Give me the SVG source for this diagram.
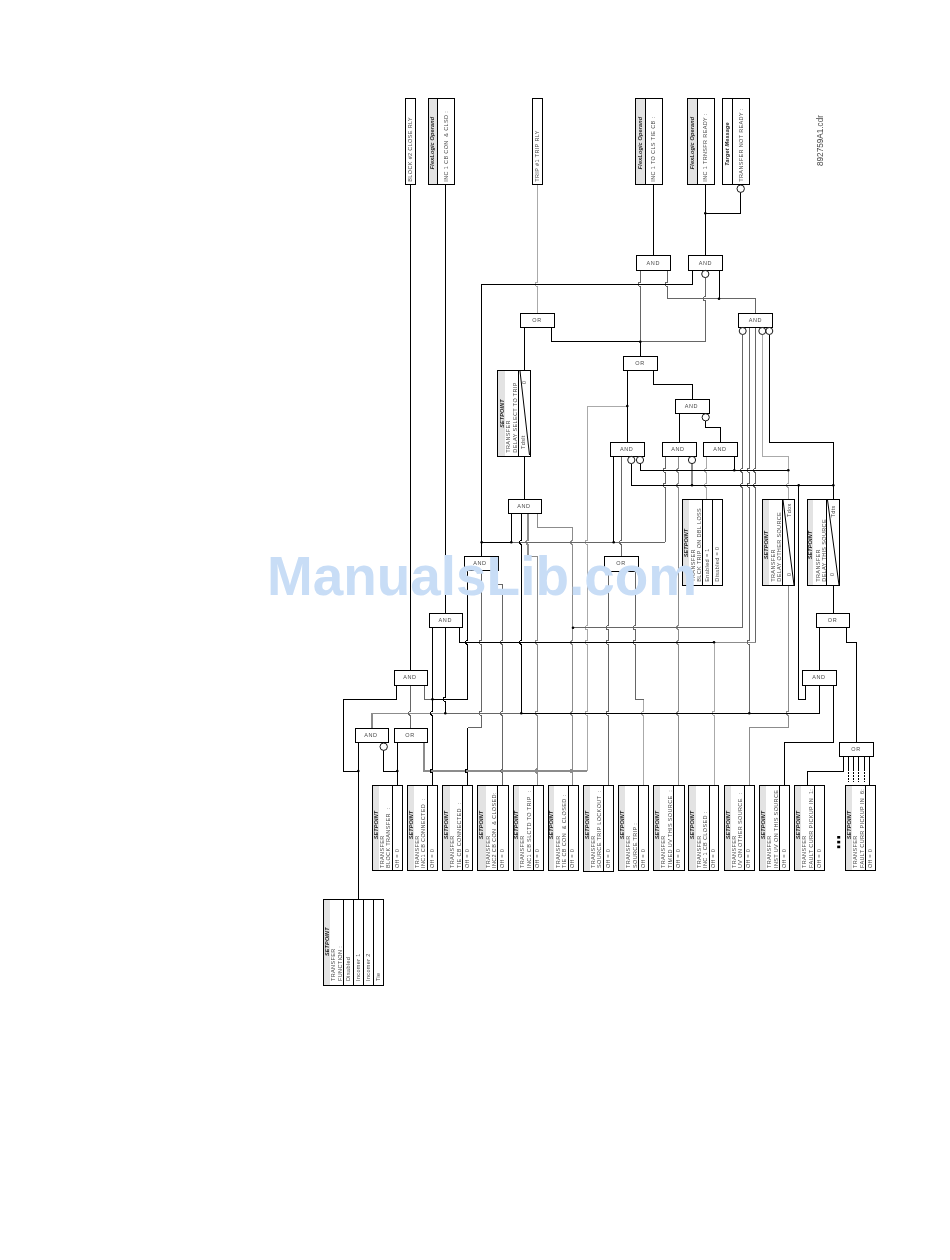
<svg xmlns="http://www.w3.org/2000/svg" width="950" height="1260" viewBox="0 0 950 1260">
<style>
text{font-family:"Liberation Sans",Arial,sans-serif;font-size:5.5px;fill:#444;letter-spacing:.36px;white-space:pre;opacity:.97}
.h{font-weight:bold;font-style:italic;text-anchor:middle;fill:#222;letter-spacing:.15px}
.m{text-anchor:middle;letter-spacing:.6px}
.b{fill:#fff;stroke:#000;stroke-width:1;shape-rendering:crispEdges}
.f{fill:#e3e3e3;stroke:none;mix-blend-mode:multiply;shape-rendering:crispEdges}
.d{fill:none;stroke:#000;stroke-width:1}
line.d{shape-rendering:crispEdges}
.o{fill:#fff;stroke:#000;stroke-width:.9}
#wires path{fill:none;stroke-width:1;shape-rendering:crispEdges}
.k{stroke:#000}.g1{stroke:#666}.g2{stroke:#8c8c8c;stroke-width:1.3!important}.g3{stroke:#aaa}
.n{fill:#000;stroke:none}
</style>
<rect width="950" height="1260" fill="#fff"/>
<g id="wires">
<path class="g3" d="M537 184.7V282.3a2 2 0 0 0 0 4V313.3M762.3 334.7V456H788.5V483.3a2 2 0 0 0 0 4V499.3M627.3 406H587.3V540.3a2 2 0 0 0 0 4V625.7a2 2 0 0 0 0 4V640.3a2 2 0 0 0 0 4V711.3a2 2 0 0 0 0 4V771M643.5 699.3V711.3a2 2 0 0 0 0 4V785M706.7 456.3V468.3a2 2 0 0 0 0 4V483.3a2 2 0 0 0 0 4V499.3M714 642.3V711.3a2 2 0 0 0 0 4V785"/>
<path class="g2" d="M528 513.7V540.3a2 2 0 0 0 0 4V556.3H537.3V640.3a2 2 0 0 0 0 4V711.3a2 2 0 0 0 0 4V769a2 2 0 0 0 0 4V785M537.7 513.7V527.7H572.7V540.3a2 2 0 0 0 0 4V640.3a2 2 0 0 0 0 4V711.3a2 2 0 0 0 0 4V769a2 2 0 0 0 0 4V785M678.7 456.3V468.3a2 2 0 0 0 0 4V483.3a2 2 0 0 0 0 4V625.7a2 2 0 0 0 0 4V640.3a2 2 0 0 0 0 4V711.3a2 2 0 0 0 0 4V785M692 464V485.3M424 742.7V771H587.3M788.3 585.7V711.3a2 2 0 0 0 0 4V727.7H749.3V785M714 642.3H755.7M372 728.3V713.3H445.3"/>
<path class="g1" d="M640.3 270.3V282.3a2 2 0 0 0 0 4V341.7M667 270.3V282.3a2 2 0 0 0 0 4V298.7H755.7V313.3M705.3 278V296.7a2 2 0 0 0 0 4V341.7H640.3M742.7 334.7V468.3a2 2 0 0 0 0 4V483.3a2 2 0 0 0 0 4V627.7H573.3M749.3 327.7V468.3a2 2 0 0 0 0 4V483.3a2 2 0 0 0 0 4V640.3a2 2 0 0 0 0 4V713.3M755.7 327.7V468.3a2 2 0 0 0 0 4V483.3a2 2 0 0 0 0 4V642.3M511.3 542.3H665M665 456.3V468.3a2 2 0 0 0 0 4V483.3a2 2 0 0 0 0 4V542.3M621.7 456.3V540.3a2 2 0 0 0 0 4V556.3M608.3 571.7V625.7a2 2 0 0 0 0 4V640.3a2 2 0 0 0 0 4V711.3a2 2 0 0 0 0 4V785M635.3 571.7V625.7a2 2 0 0 0 0 4V640.3a2 2 0 0 0 0 4V699.3H643.5M481.2 570.7V640.3a2 2 0 0 0 0 4V711.3a2 2 0 0 0 0 4V727.7H467.5M494 570.7V584.3H502.7V640.3a2 2 0 0 0 0 4V711.3a2 2 0 0 0 0 4V769a2 2 0 0 0 0 4V785M410.7 685.3V711.3a2 2 0 0 0 0 4V728.3M445.3 713.3H521.3M424 685.3V699.3H432.5"/>
<path class="k" d="M410.5 184.7V670.3M445.3 184.7V613.3M653.3 184.7V255.7M705.3 184.7V255.7M740.7 192.4V213.3H705.3M692.3 270.3V284.3H481.7V556.3M719 270.3V298.7M551.3 327.7V341.7H640.3M524.5 327.7V370.7M524.5 456.7V499.3M511.3 513.7V542.3M481.7 542.3H511.3M613.7 456.3V542.3M627.3 370.7V442.3M640.3 341.7V356.3M653.3 370.7V384.3H692.3V399.3M679.3 413.3V442.3M705.7 421V427.3H720.3V442.3M734.3 456.3V470.3M640 464V470.3H788.3M631.3 464V485.3H833.3V499.3M769.3 334.7V442.3H833.3V485.3"/>
<path class="k" d="M521.5 513.7V540.3a2 2 0 0 0 0 4V640.3a2 2 0 0 0 0 4V713.3M432.5 627.3V711.3a2 2 0 0 0 0 4V769a2 2 0 0 0 0 4V785M445.3 627.3V697.3a2 2 0 0 0 0 4V713.3M467.5 570.7V640.3a2 2 0 0 0 0 4V699.3H432.5M459.3 627.3V642.3H714M396.7 685.3V699.3H343.3V771H358.3M358.3 742.7V899.3M383.7 750.4V771H397.3M397.3 742.7V785M521.3 713.3H819.7V685.3M467.5 727.7V769a2 2 0 0 0 0 4V785M805.7 685.3V699.3H798.7V485.3M819.7 627.3V670.3M833.3 685.3V742.7H784.3V785M833.3 585.7V613.3M846.7 627.3V642.3H856.7V742.3M843.7 756.7V771H807.3V785M869.3 756.7V785"/>
<path class="k" style="stroke-dasharray:14 1.5 1.5 1.5 1.5 1.5 1.5 1.5" d="M848.3 756.7V782M853.3 756.7V782M858.3 756.7V782M864.3 756.7V782"/>
<g>
<circle class="n" cx="481.7" cy="542.3" r="1.3"/><circle class="n" cx="511.3" cy="542.3" r="1.3"/><circle class="n" cx="613.7" cy="542.3" r="1.3"/><circle class="n" cx="627.3" cy="406" r="1.3"/><circle class="n" cx="640.3" cy="341.7" r="1.3"/><circle class="n" cx="719" cy="298.7" r="1.3"/><circle class="n" cx="705.3" cy="213.3" r="1.3"/><circle class="n" cx="734.3" cy="470.3" r="1.3"/><circle class="n" cx="788.3" cy="470.3" r="1.3"/><circle class="n" cx="692" cy="485.3" r="1.3"/><circle class="n" cx="798.7" cy="485.3" r="1.3"/><circle class="n" cx="833.3" cy="485.3" r="1.3"/><circle class="n" cx="432.5" cy="699.3" r="1.3"/><circle class="n" cx="445.3" cy="713.3" r="1.3"/><circle class="n" cx="521.3" cy="713.3" r="1.3"/><circle class="n" cx="749.3" cy="713.3" r="1.3"/><circle class="n" cx="573" cy="627.7" r="1.3"/><circle class="n" cx="714" cy="642.3" r="1.3"/><circle class="n" cx="358.3" cy="771" r="1.3"/><circle class="n" cx="397.3" cy="771" r="1.3"/>
</g>
</g>

<g id="out-block2"><rect class="b" x="405.3" y="98.3" width="10.4" height="86.4"/><text transform="translate(412.3 181.7) rotate(-90)">BLOCK #2 CLOSE RLY</text></g>
<g id="out-inc1-con"><rect class="b" x="428.3" y="98.3" width="26" height="86.4"/><rect class="f" x="428.3" y="98.3" width="9" height="86.4"/><line class="d" x1="437.3" y1="98.3" x2="437.3" y2="184.7"/><text class="h" transform="translate(434.3 143) rotate(-90)">FlexLogic Operand</text><text transform="translate(447.5 181.7) rotate(-90)">INC 1 CB CON  &amp; CLSD :</text></g>
<g id="out-trip1"><rect class="b" x="532.3" y="98.3" width="10" height="86.4"/><text transform="translate(539 181.7) rotate(-90)">TRIP #1 TRIP RLY</text></g>
<g id="out-inc1-cls"><rect class="b" x="635.3" y="98.3" width="27.4" height="86.4"/><rect class="f" x="635.3" y="98.3" width="10" height="86.4"/><line class="d" x1="645.3" y1="98.3" x2="645.3" y2="184.7"/><text class="h" transform="translate(642.3 143) rotate(-90)">FlexLogic Operand</text><text transform="translate(655.3 181.7) rotate(-90)">INC 1 TO CLS TIE CB :</text></g>
<g id="out-inc1-ready"><rect class="b" x="687.3" y="98.3" width="27.4" height="86.4"/><rect class="f" x="687.3" y="98.3" width="10" height="86.4"/><line class="d" x1="697.3" y1="98.3" x2="697.3" y2="184.7"/><text class="h" transform="translate(694.3 143) rotate(-90)">FlexLogic Operand</text><text transform="translate(707.3 181.7) rotate(-90)">INC 1 TRNSFR READY :</text></g>
<g id="out-target"><rect class="b" x="722.3" y="98.3" width="27.4" height="86.4"/><line class="d" x1="732.3" y1="98.3" x2="732.3" y2="184.7"/><text class="h" transform="translate(729.3 144) rotate(-90)">Target Message</text><text transform="translate(742.7 181.7) rotate(-90)">TRANSFER NOT READY :</text><circle class="o" cx="740.7" cy="188.7" r="3.7"/></g>
<text id="drawing-no" transform="translate(823 166) rotate(-90)" style="font-size:8.2px;letter-spacing:0">892759A1.cdr</text>

<g id="and-cls"><rect class="b" x="636.3" y="255.7" width="34" height="14.6"/><text class="m" x="653.3" y="264.7">AND</text></g>
<g id="and-ready"><rect class="b" x="688.3" y="255.7" width="34.4" height="14.6"/><text class="m" x="705.5" y="264.7">AND</text><circle class="o" cx="705.3" cy="274" r="3.6"/></g>
<g id="and-big"><rect class="b" x="738.3" y="313.3" width="34.4" height="14.4"/><text class="m" x="755.5" y="322.2">AND</text><circle class="o" cx="742.7" cy="331" r="3.5"/><circle class="o" cx="762.3" cy="331" r="3.5"/><circle class="o" cx="769.3" cy="331" r="3.5"/></g>
<g id="or-trip"><rect class="b" x="520.3" y="313.3" width="34.4" height="14.4"/><text class="m" x="537" y="322.2">OR</text></g>
<g id="or-mid"><rect class="b" x="623.3" y="356.3" width="34.4" height="14.4"/><text class="m" x="640" y="365.2">OR</text></g>
<g id="and-mid"><rect class="b" x="675.3" y="399.3" width="34.4" height="14"/><text class="m" x="691.5" y="408">AND</text><circle class="o" cx="705.7" cy="417.3" r="3.6"/></g>
<g id="and-a"><rect class="b" x="610.3" y="442.3" width="34" height="14"/><text class="m" x="626.7" y="451">AND</text><circle class="o" cx="631.3" cy="460" r="3.6"/><circle class="o" cx="640" cy="460" r="3.6"/></g>
<g id="and-b"><rect class="b" x="662.3" y="442.3" width="34" height="14"/><text class="m" x="678" y="451">AND</text><circle class="o" cx="692" cy="460" r="3.6"/></g>
<g id="and-c"><rect class="b" x="703.3" y="442.3" width="34.4" height="14"/><text class="m" x="720" y="451">AND</text></g>
<g id="and-delay"><rect class="b" x="508.3" y="499.3" width="33.4" height="14.4"/><text class="m" x="524" y="508.2">AND</text></g>
<g id="and-1"><rect class="b" x="464.3" y="556.3" width="33.7" height="14.4"/><text class="m" x="480" y="565.2">AND</text></g>
<g id="or-src"><rect class="b" x="604.3" y="556.3" width="34.4" height="15.4"/><text class="m" x="621" y="565.2">OR</text></g>
<g id="and-2"><rect class="b" x="429.3" y="613.3" width="33.4" height="14"/><text class="m" x="445.3" y="622">AND</text></g>
<g id="or-r"><rect class="b" x="816.3" y="613.3" width="33.4" height="14"/><text class="m" x="832.5" y="622">OR</text></g>
<g id="and-3"><rect class="b" x="394.3" y="670.3" width="33.4" height="15"/><text class="m" x="410" y="679">AND</text></g>
<g id="and-r"><rect class="b" x="802.3" y="670.3" width="34.4" height="15"/><text class="m" x="819" y="679">AND</text></g>
<g id="and-4"><rect class="b" x="355.3" y="728.3" width="33.4" height="14.4"/><text class="m" x="371" y="737.2">AND</text><circle class="o" cx="383.7" cy="746.7" r="3.7"/></g>
<g id="or-4"><rect class="b" x="394.3" y="728.3" width="33.4" height="14.4"/><text class="m" x="410" y="737.2">OR</text></g>
<g id="or-fault"><rect class="b" x="839.3" y="742.3" width="34.4" height="14.4"/><text class="m" x="856" y="751.2">OR</text></g>

<g id="sp-delay-trip"><rect class="b" x="497.3" y="370.7" width="33.4" height="86"/><rect class="f" x="497.3" y="370.7" width="8" height="86"/><line class="d" x1="518.7" y1="370.7" x2="518.7" y2="456.7"/><path class="d" d="M520 371L529.5 455"/><text class="h" transform="translate(503.5 413.5) rotate(-90)">SETPOINT</text><text transform="translate(509.7 452.7) rotate(-90)">TRANSFER</text><text transform="translate(517.2 452.7) rotate(-90)">DELAY SELECT TO TRIP</text><text transform="translate(525 449) rotate(-90)">Tdslt</text><text transform="translate(526 384) rotate(-90)">0</text></g>
<g id="sp-dbl-loss"><rect class="b" x="682.3" y="499.3" width="40.4" height="86.4"/><rect class="f" x="682.3" y="499.3" width="6.4" height="86.4"/><line class="d" x1="702.3" y1="499.3" x2="702.3" y2="585.7"/><line class="d" x1="712.3" y1="499.3" x2="712.3" y2="585.7"/><text class="h" transform="translate(687.7 543) rotate(-90)">SETPOINT</text><text transform="translate(694.7 581.7) rotate(-90)">TRANSFER</text><text transform="translate(700.7 581.7) rotate(-90)">BLCK TRIP ON DBL LOSS</text><text transform="translate(709.3 581.7) rotate(-90)">Enabled = 1</text><text transform="translate(719.3 581.7) rotate(-90)">Disabled = 0</text></g>
<g id="sp-delay-other"><rect class="b" x="762.3" y="499.3" width="32.4" height="86.4"/><rect class="f" x="762.3" y="499.3" width="7" height="86.4"/><line class="d" x1="782.3" y1="499.3" x2="782.3" y2="585.7"/><path class="d" d="M783 500L794 585"/><text class="h" transform="translate(768.3 545) rotate(-90)">SETPOINT</text><text transform="translate(774.7 581.7) rotate(-90)">TRANSFER</text><text transform="translate(781.3 581.7) rotate(-90)">DELAY OTHER SOURCE</text><text transform="translate(790.7 517) rotate(-90)">Tdox</text><text transform="translate(790.7 576) rotate(-90)">0</text></g>
<g id="sp-delay-this"><rect class="b" x="807.3" y="499.3" width="32" height="86.4"/><rect class="f" x="807.3" y="499.3" width="6" height="86.4"/><line class="d" x1="826.7" y1="499.3" x2="826.7" y2="585.7"/><path class="d" d="M827.5 500L839 585"/><text class="h" transform="translate(812.3 545) rotate(-90)">SETPOINT</text><text transform="translate(819.7 581.7) rotate(-90)">TRANSFER</text><text transform="translate(826 581.7) rotate(-90)">DELAY THIS SOURCE</text><text transform="translate(835 517.5) rotate(-90)">Tdts</text><text transform="translate(833.7 576) rotate(-90)">0</text></g>

<g id="sp-block-transfer"><rect class="b" x="372.5" y="785" width="30.2" height="85.5"/><rect class="f" x="372.5" y="785" width="6.2" height="85.5"/><line class="d" x1="392.3" y1="785" x2="392.3" y2="870.5"/><text class="h" transform="translate(377.5 825) rotate(-90)">SETPOINT</text><text transform="translate(383.7 868) rotate(-90)">TRANSFER</text><text transform="translate(390.3 868) rotate(-90)">BLOCK TRANSFER  :</text><text transform="translate(398.7 868) rotate(-90)">Off = 0</text></g>
<g id="sp-inc1-conn"><rect class="b" x="407.5" y="785" width="30.2" height="85.5"/><rect class="f" x="407.5" y="785" width="6.5" height="85.5"/><line class="d" x1="427.7" y1="785" x2="427.7" y2="870.5"/><text class="h" transform="translate(412.7 825) rotate(-90)">SETPOINT</text><text transform="translate(418.7 868) rotate(-90)">TRANSFER</text><text transform="translate(425.3 868) rotate(-90)">INC1 CB CONNECTED  :</text><text transform="translate(433.7 868) rotate(-90)">Off = 0</text></g>
<g id="sp-tie-conn"><rect class="b" x="442" y="785" width="30.7" height="85.5"/><rect class="f" x="442" y="785" width="7.7" height="85.5"/><line class="d" x1="462.7" y1="785" x2="462.7" y2="870.5"/><text class="h" transform="translate(447.7 825) rotate(-90)">SETPOINT</text><text transform="translate(454 868) rotate(-90)">TRANSFER</text><text transform="translate(460.5 868) rotate(-90)">TIE CB CONNECTED  :</text><text transform="translate(468.7 868) rotate(-90)">Off = 0</text></g>
<g id="sp-inc2-closed"><rect class="b" x="477" y="785" width="31" height="85.5"/><rect class="f" x="477" y="785" width="8.7" height="85.5"/><line class="d" x1="497.7" y1="785" x2="497.7" y2="870.5"/><text class="h" transform="translate(483.3 825) rotate(-90)">SETPOINT</text><text transform="translate(489.5 868) rotate(-90)">TRANSFER</text><text transform="translate(496 868) rotate(-90)">INC2 CB CON  &amp; CLOSED:</text><text transform="translate(504 868) rotate(-90)">Off = 0</text></g>
<g id="sp-inc1-slctd"><rect class="b" x="513" y="785" width="30.7" height="85.5"/><rect class="f" x="513" y="785" width="6" height="85.5"/><line class="d" x1="533.3" y1="785" x2="533.3" y2="870.5"/><text class="h" transform="translate(518 825) rotate(-90)">SETPOINT</text><text transform="translate(524.2 868) rotate(-90)">TRANSFER</text><text transform="translate(530.8 868) rotate(-90)">INC1 CB SLCTD TO TRIP  :</text><text transform="translate(539.3 868) rotate(-90)">Off = 0</text></g>
<g id="sp-tie-closed"><rect class="b" x="548" y="785" width="30.7" height="85.5"/><rect class="f" x="548" y="785" width="6.3" height="85.5"/><line class="d" x1="568.7" y1="785" x2="568.7" y2="870.5"/><text class="h" transform="translate(553 825) rotate(-90)">SETPOINT</text><text transform="translate(559.5 868) rotate(-90)">TRANSFER</text><text transform="translate(566 868) rotate(-90)">TIE CB CON  &amp; CLOSED :</text><text transform="translate(574.2 868) rotate(-90)">Off = 0</text></g>
<g id="sp-src-lockout"><rect class="b" x="583.3" y="785" width="30.4" height="86.3"/><rect class="f" x="583.3" y="785" width="7" height="86.3"/><line class="d" x1="603.7" y1="785" x2="603.7" y2="871.3"/><text class="h" transform="translate(588.7 825) rotate(-90)">SETPOINT</text><text transform="translate(595 868) rotate(-90)">TRANSFER</text><text transform="translate(601.3 868) rotate(-90)">SOURCE TRIP LOCKOUT  :</text><text transform="translate(609.5 868) rotate(-90)">Off = 0</text></g>
<g id="sp-src-trip"><rect class="b" x="618" y="785" width="30.7" height="85.5"/><rect class="f" x="618" y="785" width="7.3" height="85.5"/><line class="d" x1="638.7" y1="785" x2="638.7" y2="870.5"/><text class="h" transform="translate(623.7 825) rotate(-90)">SETPOINT</text><text transform="translate(630 868) rotate(-90)">TRANSFER</text><text transform="translate(636.5 868) rotate(-90)">SOURCE TRIP :</text><text transform="translate(644.7 868) rotate(-90)">Off = 0</text></g>
<g id="sp-timed-uv"><rect class="b" x="653.3" y="785" width="31.4" height="85.5"/><rect class="f" x="653.3" y="785" width="7" height="85.5"/><line class="d" x1="673.7" y1="785" x2="673.7" y2="870.5"/><text class="h" transform="translate(658.7 825) rotate(-90)">SETPOINT</text><text transform="translate(665 868) rotate(-90)">TRANSFER</text><text transform="translate(671.7 868) rotate(-90)">TIMED UV THIS SOURCE  :</text><text transform="translate(680 868) rotate(-90)">Off = 0</text></g>
<g id="sp-inc1-closed"><rect class="b" x="688.3" y="785" width="30.4" height="85.5"/><rect class="f" x="688.3" y="785" width="7.4" height="85.5"/><line class="d" x1="709.3" y1="785" x2="709.3" y2="870.5"/><text class="h" transform="translate(694 825) rotate(-90)">SETPOINT</text><text transform="translate(700.7 868) rotate(-90)">TRANSFER</text><text transform="translate(707 868) rotate(-90)">INC 1 CB CLOSED :</text><text transform="translate(715 868) rotate(-90)">Off = 0</text></g>
<g id="sp-uv-other"><rect class="b" x="724.3" y="785" width="29.7" height="85.5"/><rect class="f" x="724.3" y="785" width="6.4" height="85.5"/><line class="d" x1="744.3" y1="785" x2="744.3" y2="870.5"/><text class="h" transform="translate(729.7 825) rotate(-90)">SETPOINT</text><text transform="translate(736 868) rotate(-90)">TRANSFER</text><text transform="translate(742.3 868) rotate(-90)">UV ON OTHER SOURCE  :</text><text transform="translate(750 868) rotate(-90)">Off = 0</text></g>
<g id="sp-inst-uv"><rect class="b" x="759.3" y="785" width="30.4" height="85.5"/><rect class="f" x="759.3" y="785" width="7" height="85.5"/><line class="d" x1="779.7" y1="785" x2="779.7" y2="870.5"/><text class="h" transform="translate(765 825) rotate(-90)">SETPOINT</text><text transform="translate(771 868) rotate(-90)">TRANSFER</text><text transform="translate(777.7 868) rotate(-90)">INST UV ON THIS SOURCE</text><text transform="translate(785.7 868) rotate(-90)">Off = 0</text></g>
<g id="sp-fault-1"><rect class="b" x="794.3" y="785" width="30.4" height="85.5"/><rect class="f" x="794.3" y="785" width="7" height="85.5"/><line class="d" x1="814.7" y1="785" x2="814.7" y2="870.5"/><text class="h" transform="translate(799.7 825) rotate(-90)">SETPOINT</text><text transform="translate(806 868) rotate(-90)">TRANSFER</text><text transform="translate(813 868) rotate(-90)">FAULT CURR PICKUP IN  1:</text><text transform="translate(820.7 868) rotate(-90)">Off = 0</text></g>
<g id="ellipsis"><rect class="n" x="837.2" y="836" width="3" height="2.6"/><rect class="n" x="837.2" y="840.8" width="3" height="2.6"/><rect class="n" x="837.2" y="845.6" width="3" height="2.6"/></g>
<g id="sp-fault-6"><rect class="b" x="845.3" y="785" width="30" height="85.5"/><rect class="f" x="845.3" y="785" width="6.4" height="85.5"/><line class="d" x1="865.7" y1="785" x2="865.7" y2="870.5"/><text class="h" transform="translate(850.5 825) rotate(-90)">SETPOINT</text><text transform="translate(857 868) rotate(-90)">TRANSFER</text><text transform="translate(864 868) rotate(-90)">FAULT CURR PICKUP IN  6:</text><text transform="translate(871.7 868) rotate(-90)">Off = 0</text></g>
<g id="sp-function"><rect class="b" x="323.3" y="899.3" width="60" height="86"/><rect class="f" x="323.3" y="899.3" width="6.4" height="86"/><line class="d" x1="343.3" y1="899.3" x2="343.3" y2="985.3"/><line class="d" x1="353.3" y1="899.3" x2="353.3" y2="985.3"/><line class="d" x1="363.3" y1="899.3" x2="363.3" y2="985.3"/><line class="d" x1="373.3" y1="899.3" x2="373.3" y2="985.3"/><text class="h" transform="translate(328.5 941.7) rotate(-90)">SETPOINT</text><text transform="translate(334.7 981) rotate(-90)">TRANSFER</text><text transform="translate(341.5 981) rotate(-90)">FUNCTION :</text><text transform="translate(350.3 981) rotate(-90)">Disabled</text><text transform="translate(360.3 981) rotate(-90)">Incomer 1</text><text transform="translate(370 981) rotate(-90)">Incomer 2</text><text transform="translate(380 981) rotate(-90)">Tie</text></g>
<text id="watermark" x="267" y="595" style="font-size:54.9px;font-weight:bold;fill:#c8ddf6;letter-spacing:0;opacity:1">ManualsLib.com</text>
</svg>
